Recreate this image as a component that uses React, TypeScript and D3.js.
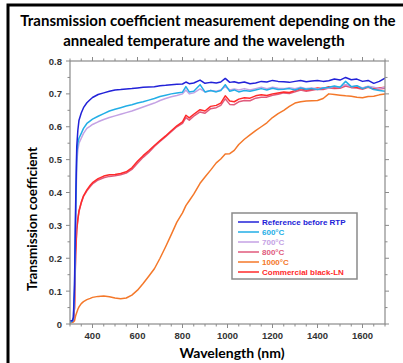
import React from "react";
import * as d3 from "d3";

const wavelengths = [300,310,315,320,325,330,335,340,350,360,375,390,400,425,450,475,500,525,550,575,600,625,650,675,700,725,750,775,
  800,815,830,850,878,900,925,950,970,990,1010,1030,1050,1075,1100,1125,1150,1175,1200,1225,1250,1275,1300,1325,1350,1375,1400,1425,1450,1475,1500,1525,1550,1575,1600,1625,1650,1675,1700];

const reference = [0.01,0.01,0.02,0.12,0.36,0.54,0.59,0.62,0.642,0.658,0.673,0.683,0.689,0.698,0.703,0.708,0.712,0.713,0.715,0.716,0.718,0.72,0.721,0.722,0.725,0.726,0.728,0.729,
  0.73,0.736,0.731,0.733,0.742,0.732,0.735,0.733,0.736,0.747,0.735,0.737,0.733,0.736,0.731,0.733,0.738,0.736,0.741,0.738,0.737,0.735,0.738,0.741,0.737,0.739,0.741,0.738,0.74,0.745,0.742,0.75,0.743,0.745,0.738,0.741,0.732,0.738,0.748];

const t600 = [0.005,0.008,0.015,0.1,0.33,0.52,0.55,0.565,0.58,0.595,0.61,0.618,0.623,0.632,0.64,0.648,0.653,0.658,0.663,0.667,0.672,0.676,0.681,0.686,0.692,0.696,0.7,0.703,
  0.705,0.722,0.706,0.708,0.728,0.706,0.71,0.706,0.71,0.728,0.708,0.712,0.706,0.71,0.708,0.712,0.716,0.712,0.717,0.713,0.714,0.716,0.712,0.718,0.714,0.716,0.713,0.718,0.72,0.724,0.72,0.738,0.722,0.725,0.716,0.722,0.713,0.71,0.708];

const t700 = [0.005,0.008,0.015,0.09,0.3,0.49,0.53,0.55,0.565,0.58,0.595,0.602,0.607,0.615,0.622,0.628,0.633,0.638,0.643,0.648,0.654,0.66,0.666,0.672,0.68,0.686,0.691,0.695,
  0.7,0.712,0.7,0.703,0.715,0.706,0.71,0.708,0.712,0.722,0.712,0.715,0.712,0.716,0.712,0.716,0.72,0.716,0.72,0.717,0.716,0.719,0.716,0.72,0.716,0.718,0.715,0.719,0.718,0.722,0.72,0.728,0.722,0.724,0.718,0.723,0.72,0.716,0.72];

const t800 = [0.005,0.008,0.01,0.05,0.21,0.285,0.318,0.342,0.368,0.388,0.405,0.418,0.426,0.438,0.445,0.449,0.451,0.454,0.459,0.47,0.489,0.507,0.522,0.54,0.555,0.57,0.585,0.6,
  0.61,0.628,0.62,0.632,0.645,0.641,0.655,0.658,0.665,0.685,0.668,0.667,0.676,0.68,0.679,0.687,0.69,0.69,0.696,0.699,0.703,0.701,0.706,0.712,0.708,0.711,0.714,0.713,0.718,0.716,0.717,0.724,0.719,0.718,0.714,0.72,0.714,0.715,0.717];

const t1000 = [0.003,0.005,0.006,0.01,0.025,0.035,0.045,0.052,0.062,0.068,0.074,0.078,0.081,0.084,0.085,0.083,0.079,0.077,0.079,0.088,0.103,0.123,0.145,0.168,0.2,0.235,0.272,0.31,
  0.338,0.36,0.375,0.395,0.428,0.447,0.468,0.49,0.502,0.517,0.518,0.528,0.546,0.562,0.575,0.588,0.6,0.612,0.628,0.64,0.65,0.662,0.672,0.676,0.678,0.679,0.68,0.686,0.7,0.698,0.696,0.694,0.693,0.69,0.688,0.692,0.693,0.697,0.7];

const commercial = [0.005,0.008,0.01,0.05,0.22,0.29,0.32,0.345,0.37,0.39,0.408,0.422,0.43,0.442,0.45,0.454,0.455,0.458,0.463,0.475,0.495,0.512,0.527,0.543,0.558,0.572,0.588,0.603,
  0.615,0.635,0.627,0.638,0.652,0.648,0.662,0.665,0.672,0.694,0.678,0.676,0.684,0.688,0.687,0.694,0.697,0.695,0.7,0.703,0.706,0.704,0.71,0.716,0.712,0.714,0.718,0.716,0.722,0.719,0.72,0.727,0.722,0.72,0.717,0.722,0.716,0.718,0.72];

const seriesNames = ["Reference before RTP","600°C","700°C","800°C","1000°C","Commercial black-LN"];
const seriesValues = [reference,t600,t700,t800,t1000,commercial];
const seriesColors = ["#2222d8","#22aee6","#c4a2e4","#e05a7c","#f4782a","#ff2a2a"];
const drawOrder = [4,3,5,2,1,0];

const xTicks = [400,600,800,1000,1200,1400,1600];
const yTicks = [0,0.1,0.2,0.3,0.4,0.5,0.6,0.7,0.8];

export default function App() {
  const x = d3.scaleLinear().domain([300,1700]).range([70,385]);
  const y = d3.scaleLinear().domain([0,0.8]).range([324,61]);
  const line = d3.line<number>().x((_, i) => x(wavelengths[i])).y(d => y(d));
  const xMinor = d3.range(300,1701,50);
  const yMinor = d3.range(0,0.801,0.05);
  const axisColor = "#8a8a8a";
  const tickFont = "'Liberation Sans', Arial, sans-serif";
  const labelFont = "Lato, 'Open Sans', sans-serif";
  return (
    <svg width={403} height={363} style={{position:"absolute",left:0,top:0,background:"#fff"}}>
      <rect x={8} y={5} width={420} height={380} fill="#fff" stroke="#000" strokeWidth={3}/>
      <text x={208} y={26} textAnchor="middle" fontFamily={labelFont} fontWeight="bold" fontSize={15}>Transmission coefficient measurement depending on the</text>
      <text x={204} y={46} textAnchor="middle" fontFamily={labelFont} fontWeight="bold" fontSize={15}>annealed temperature and the wavelength</text>
      <defs><clipPath id="clip"><rect x={70} y={61} width={315} height={263}/></clipPath></defs>
      <g clipPath="url(#clip)">
        {drawOrder.map(i => (
          <path key={i} d={line(seriesValues[i]) || ""} fill="none" stroke={seriesColors[i]} strokeWidth={1.5} strokeLinejoin="round"/>
        ))}
      </g>
      <rect x={70} y={61} width={315} height={263} fill="none" stroke={axisColor} strokeWidth={1.2}/>
      {xMinor.map(v => {
        const major = xTicks.includes(v);
        const len = major ? 4 : 2.5;
        return (
          <g key={"x"+v}>
            <line x1={x(v)} x2={x(v)} y1={324} y2={324+len} stroke={axisColor}/>
            <line x1={x(v)} x2={x(v)} y1={61} y2={61-len} stroke={axisColor}/>
          </g>
        );
      })}
      {yMinor.map((v, k) => {
        const major = k % 2 === 0;
        const len = major ? 4 : 2.5;
        return (
          <g key={"y"+k}>
            <line x1={70} x2={70-len} y1={y(v)} y2={y(v)} stroke={axisColor}/>
            <line x1={385} x2={385+len} y1={y(v)} y2={y(v)} stroke={axisColor}/>
          </g>
        );
      })}
      {xTicks.map(v => (
        <text key={"xl"+v} x={x(v)} y={339} textAnchor="middle" fontFamily={tickFont} fontWeight="bold" fontSize={9.5} fill="#333">{v}</text>
      ))}
      {yTicks.map(v => (
        <text key={"yl"+v} x={62} y={y(v)+3.5} textAnchor="end" fontFamily={tickFont} fontWeight="bold" fontSize={9.5} fill="#333">{v === 0 ? "0" : v.toFixed(1)}</text>
      ))}
      <text transform="translate(37,219) rotate(-90)" textAnchor="middle" fontFamily={labelFont} fontWeight="bold" fontSize={13.5}>Transmission coefficient</text>
      <text x={232} y={358} textAnchor="middle" fontFamily={labelFont} fontWeight="bold" fontSize={14}>Wavelength (nm)</text>
      <rect x={232} y={213} width={125} height={66} fill="#fff" stroke="#8a8a8a" strokeWidth={1.5}/>
      {seriesNames.map((n, i) => (
        <g key={n}>
          <line x1={238} x2={259} y1={222+i*10} y2={222+i*10} stroke={seriesColors[i]} strokeWidth={1.5}/>
          <text x={262} y={225+i*10} fontFamily={tickFont} fontWeight="bold" fontSize={8} fill={seriesColors[i]}>{n}</text>
        </g>
      ))}
    </svg>
  );
}
